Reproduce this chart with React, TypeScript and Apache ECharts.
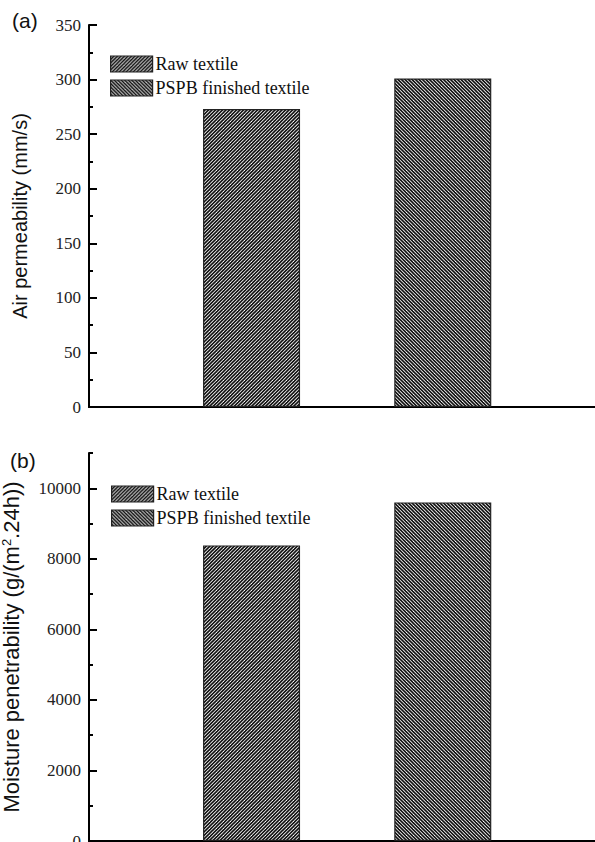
import React, { useEffect, useRef } from "react";
import * as echarts from "echarts";

const seriesNames = ["Raw textile", "PSPB finished textile"];
const barPositions = [1, 2];
const airPermeability = [273, 301];
const moisturePenetrability = [8380, 9600];
const airAxis = { min: 0, max: 350, interval: 50, minorInterval: 25 };
const moistureAxis = { min: 0, max: 11000, interval: 2000, minorInterval: 1000 };
const airName = "Air permeability (mm/s)";
const moistureName = "Moisture penetrability (g/(m{sup|2}.24h))";
const panelLabels = ["(a)", "(b)"];

function makeHatch(dir: "/" | "\\"): HTMLCanvasElement {
  const c = document.createElement("canvas");
  const s = 7;
  c.width = s;
  c.height = s;
  const ctx = c.getContext("2d")!;
  ctx.fillStyle = "#ffffff";
  ctx.fillRect(0, 0, s, s);
  ctx.strokeStyle = "#111111";
  ctx.lineWidth = 1.6;
  for (let k = -3; k <= 6; k++) {
    const cc = k * 3.5;
    ctx.beginPath();
    if (dir === "/") {
      ctx.moveTo(cc + 2, -2);
      ctx.lineTo(cc - 9, 9);
    } else {
      ctx.moveTo(cc - 2, -2);
      ctx.lineTo(cc + 9, 9);
    }
    ctx.stroke();
  }
  return c;
}

export default function App() {
  const ref = useRef<HTMLDivElement>(null);
  useEffect(() => {
    if (!ref.current) return;
    const chart = echarts.init(ref.current, undefined, { renderer: "svg" });
    const patA = { image: makeHatch("/"), repeat: "repeat" };
    const patB = { image: makeHatch("\\"), repeat: "repeat" };
    const patterns = [patA, patB];
    const serif = "Liberation Serif";
    const sans = "Liberation Sans";

    const grids = [
      { left: 89, top: 25, width: 545, height: 382, outerBoundsMode: "none", containLabel: false },
      { left: 89, top: 453, width: 545, height: 388, outerBoundsMode: "none", containLabel: false },
    ];

    const xAxes: any[] = [];
    [0, 1].forEach((g) => {
      xAxes.push({
        type: "value", gridIndex: g, min: 0.15, max: 3, position: "bottom",
        axisLine: { show: true, lineStyle: { color: "#000", width: 2 } },
        axisTick: { show: false }, axisLabel: { show: false }, splitLine: { show: false },
      });
      xAxes.push({
        type: "value", gridIndex: g, min: 0.15, max: 3, position: "top",
        axisLine: { show: true, lineStyle: { color: "#000", width: 2 } },
        axisTick: { show: false }, axisLabel: { show: false }, splitLine: { show: false },
      });
    });

    const axisDefs = [
      { ax: airAxis, name: airName, nameSize: 20, gap: 59 },
      { ax: moistureAxis, name: moistureName, nameSize: 22, gap: 67 },
    ];
    const yAxes: any[] = [];
    axisDefs.forEach((d, g) => {
      yAxes.push({
        type: "value", gridIndex: g, min: d.ax.min, max: d.ax.max, interval: d.ax.interval,
        position: "left",
        name: d.name, nameLocation: "middle", nameGap: d.gap,
        nameTextStyle: {
          fontFamily: sans, fontSize: d.nameSize, color: "#111",
          rich: { sup: { fontFamily: sans, fontSize: 13, verticalAlign: "top", color: "#111" } },
        },
        axisLine: { show: true, lineStyle: { color: "#000", width: 2 } },
        axisTick: { show: true, inside: true, length: 8, lineStyle: { color: "#000", width: 2 } },
        axisLabel: {
          fontFamily: serif, fontSize: 17, color: "#222", margin: 8, showMaxLabel: g === 0,
          formatter: (v: number) => "{t|" + String(v) + "}",
          rich: { t: { fontFamily: serif, fontSize: 17, color: "#222" } },
        },
        splitLine: { show: false },
      });
      yAxes.push({
        type: "value", gridIndex: g, min: d.ax.min, max: d.ax.max, interval: d.ax.minorInterval,
        position: "left",
        axisLine: { show: false },
        axisTick: { show: true, inside: true, length: 4, lineStyle: { color: "#000", width: 2 } },
        axisLabel: { show: false },
        splitLine: { show: false },
      });
    });

    const values = [airPermeability, moisturePenetrability];
    const series: any[] = [];
    [0, 1].forEach((g) => {
      seriesNames.forEach((n, i) => {
        series.push({
          type: "bar", name: n, xAxisIndex: g * 2, yAxisIndex: g * 2,
          data: [[barPositions[i], values[g][i]]],
          barWidth: 97, barGap: "-100%",
          itemStyle: { color: patterns[i], borderColor: "#222", borderWidth: 1.2 },
        });
      });
    });

    const legends = [
      { left: 110, top: 55 },
      { left: 111, top: 485 },
    ].map((p) => ({
      ...p, orient: "vertical", padding: 0, itemWidth: 42, itemHeight: 16, itemGap: 6,
      icon: "rect", selectedMode: false, data: seriesNames,
      itemStyle: { borderColor: "#222", borderWidth: 1.2 },
      textStyle: { fontFamily: serif, fontSize: 18, color: "#111", padding: [0, 0, 0, -2] },
    }));

    chart.setOption({
      animation: false,
      backgroundColor: "#fff",
      textStyle: { fontFamily: serif },
      grid: grids,
      xAxis: xAxes,
      yAxis: yAxes,
      legend: legends,
      series,
      graphic: [
        { type: "text", left: 12, top: 10, style: { text: panelLabels[0], fontFamily: sans, fontSize: 21, fill: "#111" } },
        { type: "text", left: 10, top: 450, style: { text: panelLabels[1], fontFamily: sans, fontSize: 21, fill: "#111" } },
      ],
    });
    return () => chart.dispose();
  }, []);
  return (
    <div
      ref={ref}
      style={{ position: "absolute", left: 0, top: 0, width: 595, height: 842 }}
    />
  );
}
